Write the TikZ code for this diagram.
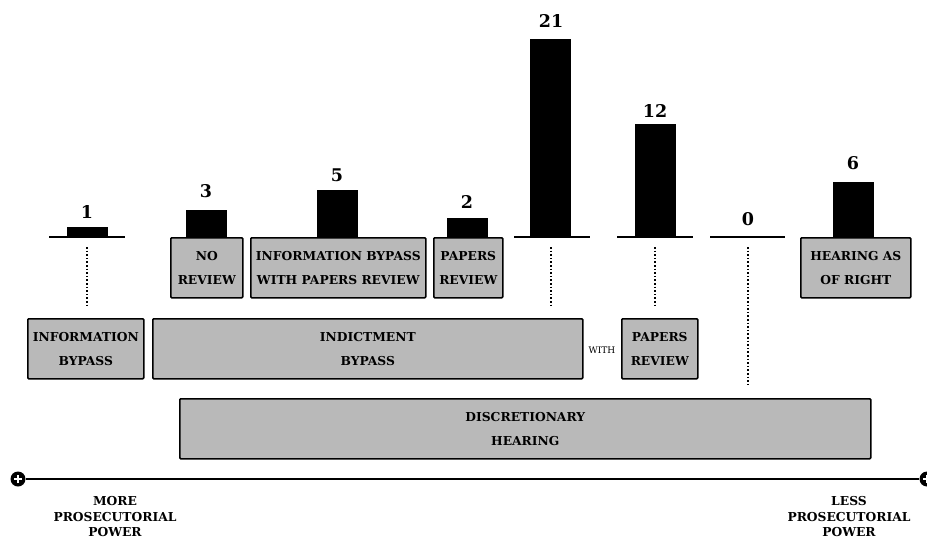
\documentclass[tikz,border=0pt]{standalone}
\usepackage{fontspec}
\setmainfont{DejaVu Serif}
\begin{document}
\begin{tikzpicture}[x=1pt,y=-1pt,
  stage/.style={draw=black,line width=1.6pt,fill=gray!55,rounded corners=1pt,
    inner sep=0pt,align=center,anchor=north west,
    font=\bfseries\fontsize{12.3}{24}\selectfont},
  bar/.style={fill=black,inner sep=0pt,anchor=south west},
  count/.style={font=\bfseries\fontsize{17.5}{18}\selectfont,anchor=base},
  base/.style={line width=1.8pt},
  dotline/.style={line width=1.6pt,dotted},
  endtxt/.style={align=center,font=\bfseries\fontsize{12.3}{15.5}\selectfont,anchor=north},
  knob/.style={circle,fill=black,inner sep=0pt,minimum size=15pt}
]
\useasboundingbox (0,0) rectangle (927,541);

% --- top row of procedure boxes ---
\node[stage,minimum width=72pt,minimum height=60pt] (nr) at (170,237) {NO\\REVIEW};
\node[stage,minimum width=175pt,minimum height=60pt] (ibp) at (250,237) {INFORMATION BYPASS\\WITH PAPERS REVIEW};
\node[stage,minimum width=69pt,minimum height=60pt] (pr) at (433,237) {PAPERS\\REVIEW};
\node[stage,minimum width=110pt,minimum height=60pt] (har) at (800,237) {HEARING AS\\OF RIGHT};

% --- middle row ---
\node[stage,minimum width=116pt,minimum height=60pt] (ib) at (27,318) {INFORMATION\\BYPASS};
\node[stage,minimum width=430pt,minimum height=60pt] (indb) at (152,318) {INDICTMENT\\BYPASS};
\node[font=\fontsize{9}{9}\selectfont] (with) at (602,350) {WITH};
\node[stage,minimum width=76pt,minimum height=60pt] (pr2) at (621,318) {PAPERS\\REVIEW};

% --- bottom box ---
\node[stage,minimum width=691pt,minimum height=60pt] (dh) at (179,398) {DISCRETIONARY\\HEARING};

% --- free-standing baselines ---
\coordinate (l1a) at (49,237);  \coordinate (l1b) at (125,237);
\coordinate (l5a) at (514,237); \coordinate (l5b) at (590,237);
\coordinate (l6a) at (617,237); \coordinate (l6b) at (693,237);
\coordinate (l7a) at (710,237); \coordinate (l7b) at (785,237);
\draw[base] (l1a) -- (l1b);
\draw[base] (l5a) -- (l5b);
\draw[base] (l6a) -- (l6b);
\draw[base] (l7a) -- (l7b);

% --- bars ---
\node[bar,minimum width=41pt,minimum height=10pt] (b1) at (67,237) {};
\node[bar,minimum width=41pt,minimum height=27pt] (b2) at (186,237) {};
\node[bar,minimum width=41pt,minimum height=47pt] (b3) at (317,237) {};
\node[bar,minimum width=41pt,minimum height=19pt] (b4) at (447,237) {};
\node[bar,minimum width=41pt,minimum height=198pt] (b5) at (530,237) {};
\node[bar,minimum width=41pt,minimum height=113pt] (b6) at (635,237) {};
\node[bar,minimum width=41pt,minimum height=55pt] (b8) at (833,237) {};

% --- counts ---
\node[count] (c1) at (87,218) {1};
\node[count] (c2) at (206,197) {3};
\node[count] (c3) at (337,181) {5};
\node[count] (c4) at (467,208) {2};
\node[count] (c5) at (551,27) {21};
\node[count] (c6) at (655,117) {12};
\node[count] (c7) at (748,225) {0};
\node[count] (c8) at (853,169) {6};

% --- dotted links ---
\coordinate (d1) at (87,247);  \coordinate (d1e) at (87,307);
\coordinate (d5) at (551,247); \coordinate (d5e) at (551,307);
\coordinate (d6) at (655,247); \coordinate (d6e) at (655,307);
\coordinate (d7) at (748,247); \coordinate (d7e) at (748,386);
\draw[dotline] (d1) -- (d1e);
\draw[dotline] (d5) -- (d5e);
\draw[dotline] (d6) -- (d6e);
\draw[dotline] (d7) -- (d7e);

% --- power axis ---
\node[knob] (kl) at (18,479) {};
\node[knob] (kr) at (927,479) {};
\draw[line width=1.8pt] (kl) -- (kr);
\foreach \k in {kl,kr}{
  \draw[white,line width=1.8pt] ([xshift=-4pt]\k.center) -- ([xshift=4pt]\k.center);
  \draw[white,line width=1.8pt] ([yshift=-4pt]\k.center) -- ([yshift=4pt]\k.center);
}
\node[endtxt] (more) at (115,493) {MORE\\PROSECUTORIAL\\POWER};
\node[endtxt] (less) at (849,493) {LESS\\PROSECUTORIAL\\POWER};
\end{tikzpicture}
\end{document}
